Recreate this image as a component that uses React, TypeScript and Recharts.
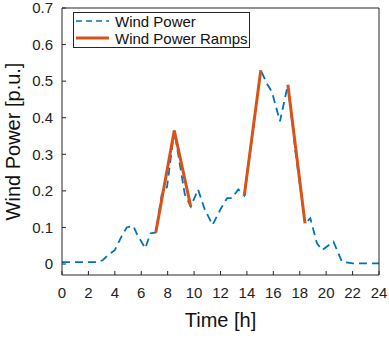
import React from "react";
import { LineChart, Line, XAxis, YAxis, Legend } from "recharts";

// Wind power profile [p.u.] over the day
const windTime = [
  0, 2.75, 3.1, 3.5, 4, 4.5, 4.9, 5.4, 5.65, 6.3, 6.7, 7.1, 7.55, 7.95, 8.5,
  9.3, 9.75, 10.3, 10.8, 11.4, 12, 12.5, 12.85, 13.35, 13.8, 14.4, 15.05, 15.5,
  15.9, 16.5, 17.1, 17.7, 18.4, 18.8, 19.3, 19.7, 20.55, 21.2, 22, 24,
];
const windPower = [
  0.005, 0.005, 0.011, 0.025, 0.038, 0.075, 0.1, 0.104, 0.084, 0.043, 0.084,
  0.086, 0.19, 0.21, 0.365, 0.19, 0.157, 0.204, 0.15, 0.107, 0.15, 0.18, 0.18,
  0.204, 0.187, 0.35, 0.53, 0.494, 0.47, 0.39, 0.49, 0.3, 0.111, 0.125, 0.057,
  0.038, 0.061, 0.006, 0.002, 0.002,
];

// Detected ramps (null breaks the line between ramps)
const rampTime = [7.1, 8.5, 9.75, 11.8, 13.8, 15.05, 16, 17.1, 18.4];
const rampPower = [0.086, 0.365, 0.157, null, 0.187, 0.53, null, 0.49, 0.111];

const xTicks = [0, 2, 4, 6, 8, 10, 12, 14, 16, 18, 20, 22, 24];
const yTicks = [0, 0.1, 0.2, 0.3, 0.4, 0.5, 0.6, 0.7];

const windData = windTime.map((t, i) => ({ t, p: windPower[i] }));
const rampData = rampTime.map((t, i) => ({ t, p: rampPower[i] }));

const FONT = "'Liberation Sans', Arial, Helvetica, sans-serif";
const AXIS = "#262626";
const BLUE = "#0072BD";
const ORANGE = "#D95319";

const tickStyle = { fontSize: 15, fill: "#222", fontFamily: FONT };

const LegendBox = () => (
  <div
    style={{
      width: 177,
      height: 36,
      border: `1px solid ${AXIS}`,
      background: "#fff",
      boxSizing: "border-box",
    }}
  >
    <svg width={175} height={34} style={{ display: "block" }}>
      <line x1={2} y1={8} x2={35} y2={8} stroke={BLUE} strokeWidth={1.5} strokeDasharray="6 4" />
      <text x={41} y={13.5} fontSize={15} fontFamily={FONT} fill="#111">Wind Power</text>
      <line x1={2} y1={25} x2={35} y2={25} stroke={ORANGE} strokeWidth={3} />
      <text x={41} y={30.5} fontSize={15} fontFamily={FONT} fill="#111">Wind Power Ramps</text>
    </svg>
  </div>
);

export default function App() {
  return (
    <div style={{ position: "absolute", left: 0, top: 0, background: "#fff" }}>
      <LineChart width={389} height={339} margin={{ top: 7, right: 9, left: 0, bottom: 0 }}>
        <XAxis
          dataKey="t"
          type="number"
          domain={[0, 24]}
          ticks={xTicks}
          interval={0}
          height={64}
          tickSize={-4}
          tickMargin={16}
          tickLine={{ stroke: AXIS }}
          tick={tickStyle}
          axisLine={{ stroke: AXIS }}
          label={{
            value: "Time [h]",
            position: "insideBottom",
            offset: 12,
            fontSize: 20,
            fill: "#111",
            fontFamily: FONT,
          }}
        />
        <XAxis
          xAxisId="top"
          orientation="top"
          dataKey="t"
          type="number"
          domain={[0, 24]}
          ticks={xTicks}
          interval={0}
          height={1}
          tickSize={-4}
          tickLine={{ stroke: AXIS }}
          tick={false}
          axisLine={{ stroke: AXIS }}
        />
        <YAxis
          type="number"
          domain={[-0.03, 0.7]}
          ticks={yTicks}
          interval={0}
          width={62}
          tickSize={-4}
          tickMargin={13}
          tickLine={{ stroke: AXIS }}
          tick={tickStyle}
          axisLine={{ stroke: AXIS }}
          allowDataOverflow
          label={{
            value: "Wind Power [p.u.]",
            angle: -90,
            position: "insideLeft",
            offset: 13,
            fontSize: 20,
            fill: "#111",
            fontFamily: FONT,
            style: { textAnchor: "middle" },
          }}
        />
        <YAxis
          yAxisId="right"
          orientation="right"
          type="number"
          domain={[-0.03, 0.7]}
          ticks={yTicks}
          interval={0}
          width={1}
          tickSize={-4}
          tickLine={{ stroke: AXIS }}
          tick={false}
          axisLine={{ stroke: AXIS }}
          allowDataOverflow
        />
        <Legend
          layout="vertical"
          align="center"
          verticalAlign="middle"
          content={<LegendBox />}
          wrapperStyle={{ position: "absolute", left: 73, top: 12, width: 177, height: 36 }}
        />
        <Line
          data={windData}
          dataKey="p"
          name="Wind Power"
          type="linear"
          stroke={BLUE}
          strokeWidth={1.8}
          strokeDasharray="8 5"
          dot={false}
          activeDot={false}
          isAnimationActive={false}
        />
        <Line
          data={rampData}
          dataKey="p"
          name="Wind Power Ramps"
          type="linear"
          stroke={ORANGE}
          strokeWidth={3}
          dot={false}
          activeDot={false}
          connectNulls={false}
          isAnimationActive={false}
        />
      </LineChart>
    </div>
  );
}
